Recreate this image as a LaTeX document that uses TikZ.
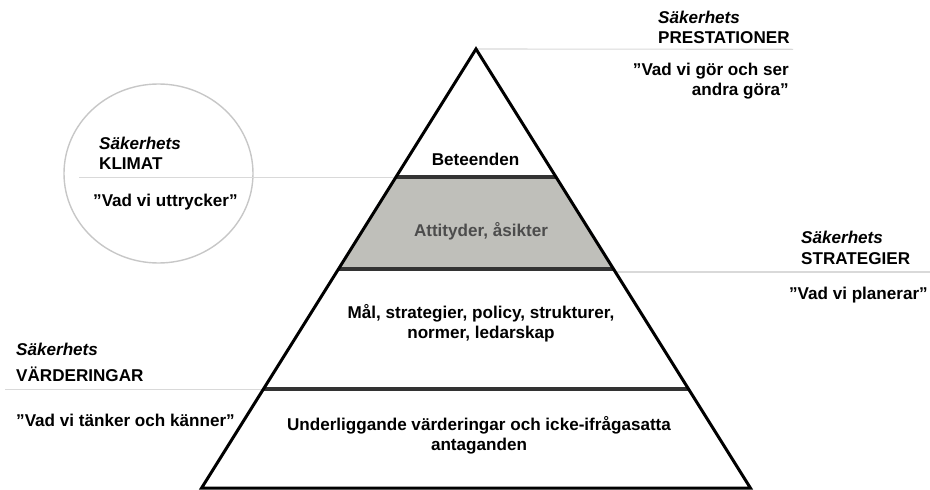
\documentclass[tikz,border=0pt]{standalone}
\usepackage{fontspec}
\setmainfont{Liberation Sans}
\begin{document}
\begin{tikzpicture}[x=1pt,y=-1pt,
  txt/.style={inner sep=0pt,font=\fontsize{17.1}{20}\selectfont\bfseries},
  itl/.style={txt,font=\fontsize{17.1}{20}\selectfont\bfseries\itshape},
  guide/.style={draw=black!15,line width=1.1pt},
  divider/.style={draw=black!80,line width=3.6pt},
  outline/.style={draw=black,line width=3pt,line join=miter}]
\useasboundingbox (0,0) rectangle (930,490);
% pyramid coordinates
\coordinate (apex) at (476,49);
\coordinate (bl) at (201.6,488);
\coordinate (br) at (750.4,488);
\coordinate (l1) at (396,177);   \coordinate (r1) at (556,177);
\coordinate (l2) at (338.5,269); \coordinate (r2) at (613.5,269);
\coordinate (l3) at (263.5,389); \coordinate (r3) at (688.5,389);
% grey band
\fill[fill={rgb,255:red,191;green,191;blue,186}] (l1) -- (r1) -- (r2) -- (l2) -- cycle;
% circle
\draw[draw=black!22,line width=1.4pt] (158.5,173.5) ellipse [x radius=94.5,y radius=89.5];
% guide lines
\coordinate (g1) at (793,49.3);
\coordinate (g2a) at (79,177.6);  \coordinate (g2b) at (396,177.6);
\coordinate (g3a) at (615.4,272); \coordinate (g3b) at (930,272);
\coordinate (g4a) at (5,389.5);   \coordinate (g4b) at (263.5,389.5);
\draw[guide] (apex) -- (g1);
\draw[guide] (g2a) -- (g2b);
\draw[guide] (g3a) -- (g3b);
\draw[guide] (g4a) -- (g4b);
% dividers
\draw[divider] (l1) -- (r1);
\draw[divider] (l2) -- (r2);
\draw[divider] (l3) -- (r3);
% outline
\draw[outline] (apex) -- (br) -- (bl) -- cycle;
% pyramid texts
\node[txt] (beteenden) at (475.5,159) {Beteenden};
\node[txt,text=black!70] (attityder) at (481,231) {Attityder, åsikter};
\node[txt,align=center] (mal) at (481,323) {Mål, strategier, policy, strukturer,\\normer, ledarskap};
\node[txt,align=center] (under) at (479,435) {Underliggande värderingar och icke-ifrågasatta\\antaganden};
% side labels: prestationer
\node[itl,anchor=west] (s1) at (658,17) {Säkerhets};
\node[txt,anchor=west] (p1) at (658,38) {PRESTATIONER};
\node[txt,anchor=east,align=right] (q1) at (789,81.5) {”Vad vi gör och ser\\andra göra”};
% klimat
\node[itl,anchor=west] (s2) at (99,143) {Säkerhets};
\node[txt,anchor=west] (p2) at (99,164) {KLIMAT};
\node[txt,anchor=west] (q2) at (93,202) {”Vad vi uttrycker”};
% strategier
\node[itl,anchor=west] (s3) at (801,237) {Säkerhets};
\node[txt,anchor=west] (p3) at (801,259) {STRATEGIER};
\node[txt,anchor=east] (q3) at (928,295) {”Vad vi planerar”};
% varderingar
\node[itl,anchor=west] (s4) at (16,349) {Säkerhets};
\node[txt,anchor=west] (p4) at (16,374) {VÄRDERINGAR};
\node[txt,anchor=west] (q4) at (16,420) {”Vad vi tänker och känner”};
\end{tikzpicture}
\end{document}
